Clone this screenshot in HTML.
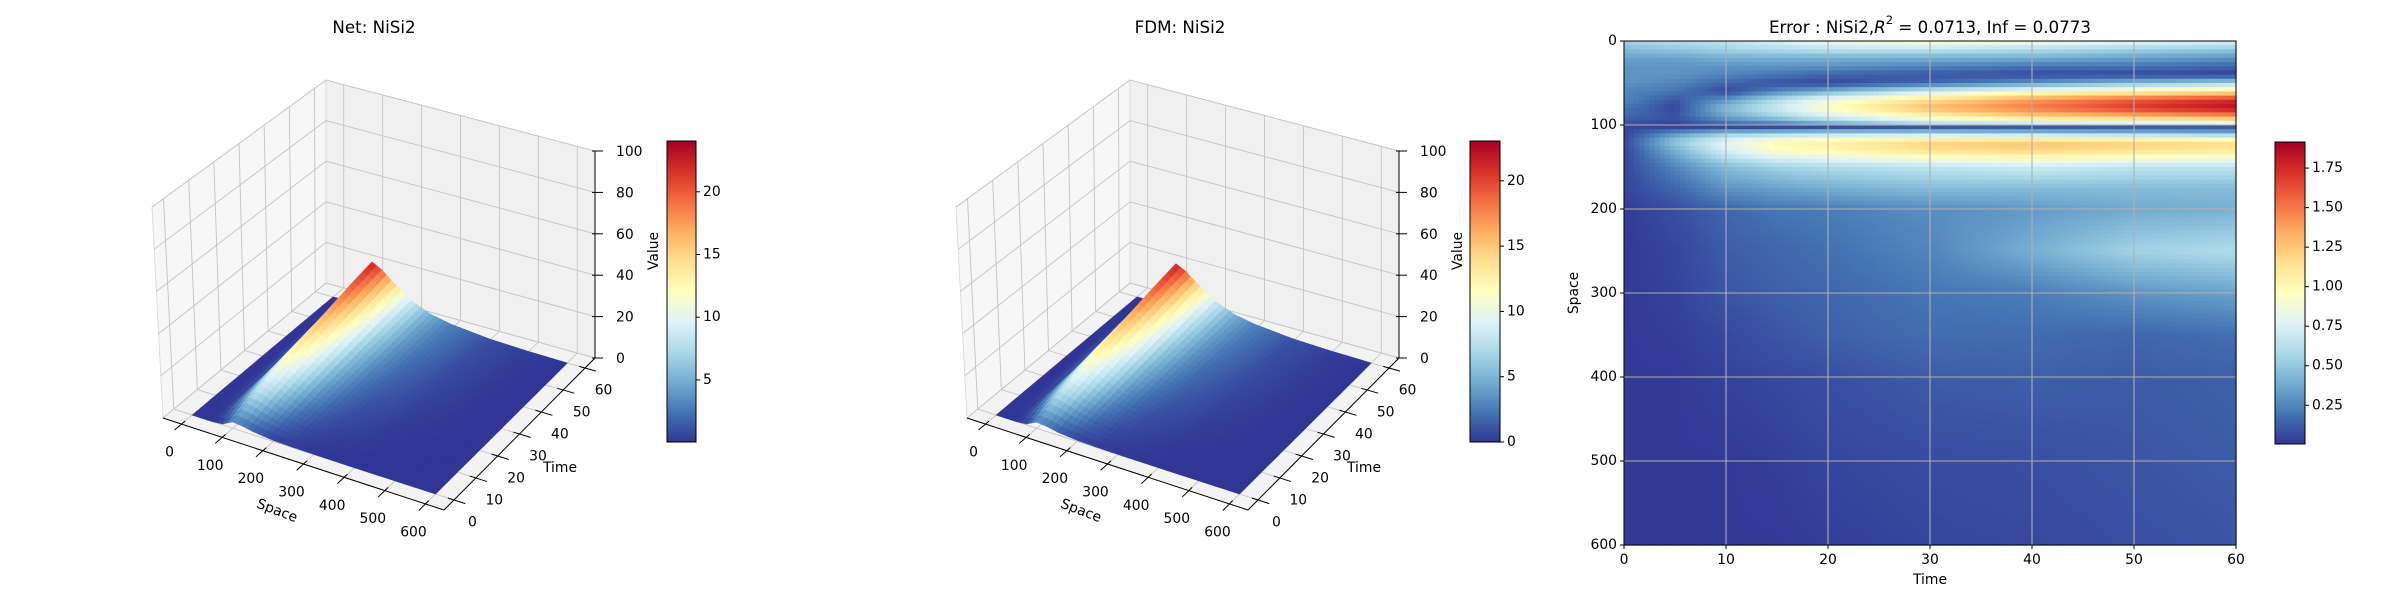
<!DOCTYPE html>
<html><head><meta charset="utf-8">
<style>
html,body{margin:0;padding:0;background:#fff;}
svg text{font-family:"DejaVu Sans","Liberation Sans",sans-serif;fill:#000;}
</style></head>
<body>
<svg id="fig" width="2400" height="600" viewBox="0 0 2400 600" xmlns="http://www.w3.org/2000/svg">
<defs><linearGradient id="cmapGrad" x1="0" y1="1" x2="0" y2="0"></linearGradient></defs>
<rect x="0" y="0" width="2400" height="600" fill="#fff"/>
<g id="net-panel"></g>
<g id="fdm-panel"></g>
<g id="err-panel"></g>
<text x="374" y="27" font-size="16.7" text-anchor="middle" dominant-baseline="central">Net: NiSi2</text>
<text x="1180" y="27" font-size="16.7" text-anchor="middle" dominant-baseline="central">FDM: NiSi2</text>
<text x="1930" y="27" font-size="16.7" text-anchor="middle" dominant-baseline="central">Error : NiSi2,<tspan font-style="italic">R</tspan><tspan font-size="11.5" dy="-7">2</tspan><tspan dy="7"> = 0.0713, Inf = 0.0773</tspan></text>
</svg>
<script>
// ---------- data ----------
const surfSpace = [0,25,50,75,100,125,150,200,250,300,400,500,600];
const surfTime = [0,10,20,30,40,50,60];
const netValues = [
 [0,0,0,0.5,3,2.5,1.5,0.5,0.2,0.1,0,0,0],
 [0,0,0.5,4,8,7,5,2.2,1,0.5,0.15,0.05,0],
 [0,0,1,6.5,11.5,10,7.8,3.8,1.9,1,0.3,0.1,0],
 [0,0,1.5,8.5,14.5,12.7,10,5.2,2.8,1.6,0.5,0.15,0],
 [0,0,2,10.5,17,15,12,6.5,3.6,2.1,0.7,0.2,0],
 [0,0,2.5,12,20,17.5,14,7.8,4.3,2.6,0.85,0.25,0],
 [0,0,3,13.5,22.5,20,16,9,5,3,1,0.3,0]
];
const fdmValues = [
 [0,0,0,0.5,2.9,2.4,1.4,0.5,0.2,0.1,0,0,0],
 [0,0,0.5,3.8,7.7,6.7,4.8,2.1,1,0.5,0.15,0.05,0],
 [0,0,1,6.2,11,9.6,7.5,3.6,1.8,1,0.3,0.1,0],
 [0,0,1.4,8.2,13.9,12.2,9.6,5,2.7,1.5,0.5,0.15,0],
 [0,0,1.9,10.1,16.3,14.4,11.5,6.2,3.5,2,0.7,0.2,0],
 [0,0,2.4,11.5,19.2,16.8,13.4,7.5,4.1,2.5,0.8,0.25,0],
 [0,0,2.9,13,21.6,19.2,15.4,8.6,4.8,2.9,1,0.3,0]
];
const spaceTicks = [0,100,200,300,400,500,600];
const timeTicks = [0,10,20,30,40,50,60];
const valueTicks = [0,20,40,60,80,100];
const netCbarTicks = [5,10,15,20];
const fdmCbarTicks = [0,5,10,15,20];
const errCbarTicks = [0.25,0.5,0.75,1.0,1.25,1.5,1.75];
const errCbarLabels = ['0.25','0.50','0.75','1.00','1.25','1.50','1.75'];

const errSpace = [0,10,20,30,40,50,60,70,80,90,97,103,110,120,130,150,175,200,250,300,350,400,500,600];
const errTime = [0,5,10,15,20,30,40,50,60];
const errValues = [
 [0.55,0.6,0.65,0.75,0.85,0.95,0.9,0.8,0.75],
 [0.45,0.5,0.55,0.6,0.65,0.65,0.6,0.55,0.5],
 [0.35,0.35,0.4,0.4,0.4,0.4,0.4,0.35,0.3],
 [0.3,0.3,0.3,0.3,0.3,0.25,0.2,0.2,0.15],
 [0.3,0.3,0.25,0.2,0.15,0.1,0.06,0.05,0.03],
 [0.3,0.25,0.15,0.08,0.05,0.15,0.3,0.45,0.55],
 [0.25,0.2,0.05,0.25,0.4,0.7,0.9,1.0,1.1],
 [0.25,0.1,0.3,0.6,0.85,1.15,1.4,1.6,1.75],
 [0.2,0.05,0.45,0.7,0.95,1.3,1.5,1.7,1.85],
 [0.15,0.1,0.35,0.55,0.75,1.0,1.2,1.3,1.4],
 [0.1,0.05,0.2,0.3,0.45,0.7,0.8,0.85,0.9],
 [0.05,0.05,0.05,0.05,0.05,0.05,0.05,0.05,0.05],
 [0.05,0.3,0.5,0.55,0.6,0.6,0.55,0.5,0.45],
 [0.05,0.5,0.8,1.0,1.05,1.2,1.25,1.2,1.15],
 [0.05,0.4,0.75,0.95,1.0,1.15,1.2,1.15,1.1],
 [0.05,0.25,0.45,0.55,0.6,0.65,0.7,0.65,0.65],
 [0.05,0.15,0.3,0.35,0.4,0.45,0.45,0.45,0.45],
 [0.02,0.08,0.15,0.2,0.22,0.28,0.32,0.38,0.4],
 [0.02,0.05,0.12,0.15,0.18,0.25,0.4,0.55,0.6],
 [0.02,0.04,0.1,0.13,0.15,0.2,0.22,0.3,0.35],
 [0.02,0.03,0.06,0.1,0.13,0.17,0.17,0.15,0.18],
 [0.02,0.02,0.04,0.06,0.08,0.12,0.13,0.12,0.13],
 [0.02,0.02,0.02,0.03,0.05,0.07,0.08,0.1,0.12],
 [0.02,0.02,0.02,0.02,0.03,0.05,0.06,0.08,0.1]
];

// ---------- helpers ----------
const NS = 'http://www.w3.org/2000/svg';
const CMAP = ['#313695','#4575b4','#74add1','#abd9e9','#e0f3f8','#ffffbf','#fee090','#fdae61','#f46d43','#d73027','#a50026'];
function hex(h){return [parseInt(h.substr(1,2),16),parseInt(h.substr(3,2),16),parseInt(h.substr(5,2),16)];}
const CM = CMAP.map(hex);
function cmap(x){
  x = Math.max(0, Math.min(1, x));
  const p = x*10; const i = Math.min(9, Math.floor(p)); const f = p - i;
  const a = CM[i], b = CM[i+1];
  return 'rgb(' + Math.round(a[0]+(b[0]-a[0])*f) + ',' + Math.round(a[1]+(b[1]-a[1])*f) + ',' + Math.round(a[2]+(b[2]-a[2])*f) + ')';
}
function mk(tag, attrs, parent){
  const e = document.createElementNS(NS, tag);
  for (const k in attrs) e.setAttribute(k, attrs[k]);
  parent.appendChild(e); return e;
}
function findIdx(arr, x){
  let i = 0; while (i < arr.length-2 && x > arr[i+1]) i++;
  const f = Math.max(0, Math.min(1, (x-arr[i])/(arr[i+1]-arr[i])));
  return [i, f];
}
function interp(a1, a2, M, x1, x2){
  const [i, fi] = findIdx(a1, x1); const [j, fj] = findIdx(a2, x2);
  return M[i][j]*(1-fi)*(1-fj) + M[i+1][j]*fi*(1-fj) + M[i][j+1]*(1-fi)*fj + M[i+1][j+1]*fi*fj;
}
(function(){
  const g = document.getElementById('cmapGrad');
  CMAP.forEach((c,i)=>{ mk('stop', {offset: (i/10), 'stop-color': c}, g); });
})();

// ---------- 3D projection ----------
const BOT = {L:[163,418], F:[444,510], R:[595,358], B:[326,283]};
const TOP = {L:[152,207], F:[452,295], R:[595,151], B:[326,80]};
const SMIN=-45.6, SMAX=645.6, TMIN=-4.56, TMAX=64.56, ZMAX=100;
function bil(C,u,v,k){return (1-u)*(1-v)*C.L[k] + u*(1-v)*C.F[k] + u*v*C.R[k] + (1-u)*v*C.B[k];}
function proj(s,t,z,ox){
  const u=(s-SMIN)/(SMAX-SMIN), v=(t-TMIN)/(TMAX-TMIN), w=z/ZMAX;
  return [ox + bil(BOT,u,v,0)*(1-w) + bil(TOP,u,v,0)*w, bil(BOT,u,v,1)*(1-w) + bil(TOP,u,v,1)*w];
}
function pts(arr){return arr.map(p=>p[0].toFixed(1)+','+p[1].toFixed(1)).join(' ');}

function drawColorbar(g, x, y, w, h, vmin, vmax, ticks, labels, prefix){
  const bar = mk('rect', {x:x, y:y, width:w, height:h, fill:'url(#cmapGrad)', stroke:'#000', 'stroke-width':1}, g);
  
  
  ticks.forEach((v,i)=>{
    const ty = y + h - (v - vmin)/(vmax - vmin)*h;
    const tk = mk('line', {x1:x+w, y1:ty, x2:x+w+4, y2:ty, stroke:'#000', 'stroke-width':1}, g);
    
    
    const tl = mk('text', {x:x+w+7, y:ty, 'font-size':13.9, 'dominant-baseline':'central'}, g);
    
    
    tl.textContent = labels ? labels[i] : String(v);
  });
}

function draw3D(g, ox, vals, vmin, vmax, prefix){
  const paneStyle = {stroke:'#d6d6d6', 'stroke-width':0.8};
  const lp = mk('polygon', Object.assign({points: pts([proj(SMIN,TMIN,0,ox),proj(SMIN,TMAX,0,ox),proj(SMIN,TMAX,100,ox),proj(SMIN,TMIN,100,ox)]), fill:'#f7f7f7'}, paneStyle), g);
  
  
  const bp = mk('polygon', Object.assign({points: pts([proj(SMIN,TMAX,0,ox),proj(SMAX,TMAX,0,ox),proj(SMAX,TMAX,100,ox),proj(SMIN,TMAX,100,ox)]), fill:'#f0f0f0'}, paneStyle), g);
  
  
  const fp = mk('polygon', Object.assign({points: pts([proj(SMIN,TMIN,0,ox),proj(SMAX,TMIN,0,ox),proj(SMAX,TMAX,0,ox),proj(SMIN,TMAX,0,ox)]), fill:'#f3f3f3'}, paneStyle), g);
  
  
  const grid = (a,b)=>{
    const l = mk('line', {x1:a[0], y1:a[1], x2:b[0], y2:b[1], stroke:'#c4c4c4', 'stroke-width':0.9}, g);
    
    
  };
  timeTicks.forEach(t=>{ grid(proj(SMIN,t,0,ox), proj(SMIN,t,100,ox)); grid(proj(SMIN,t,0,ox), proj(SMAX,t,0,ox)); });
  valueTicks.forEach(z=>{ grid(proj(SMIN,TMIN,z,ox), proj(SMIN,TMAX,z,ox)); grid(proj(SMIN,TMAX,z,ox), proj(SMAX,TMAX,z,ox)); });
  spaceTicks.forEach(s=>{ grid(proj(s,TMAX,0,ox), proj(s,TMAX,100,ox)); grid(proj(s,TMIN,0,ox), proj(s,TMAX,0,ox)); });

  const ns = 48, nt = 30;
  const S0 = surfSpace[0], S1 = surfSpace[surfSpace.length-1];
  const T0 = surfTime[0], T1 = surfTime[surfTime.length-1];
  const val = (s,t)=>interp(surfTime, surfSpace, vals, t, s);
  const quads = [];
  for (let i=0;i<ns;i++){
    for (let j=0;j<nt;j++){
      const sa = S0 + (S1-S0)*i/ns, sb = S0 + (S1-S0)*(i+1)/ns;
      const ta = T0 + (T1-T0)*j/nt, tb = T0 + (T1-T0)*(j+1)/nt;
      const v1=val(sa,ta), v2=val(sb,ta), v3=val(sb,tb), v4=val(sa,tb);
      const key = ((sa+sb)/2 - SMIN)/(SMAX-SMIN) - ((ta+tb)/2 - TMIN)/(TMAX-TMIN);
      quads.push({key, p:[proj(sa,ta,v1,ox),proj(sb,ta,v2,ox),proj(sb,tb,v3,ox),proj(sa,tb,v4,ox)], v:(v1+v2+v3+v4)/4});
    }
  }
  quads.sort((a,b)=>a.key-b.key);
  quads.forEach(q=>{
    const c = cmap((q.v - vmin)/(vmax - vmin));
    const poly = mk('polygon', {points: pts(q.p), fill:c, stroke:c, 'stroke-width':0.6}, g);
    
    
  });

  const axisLine = (a,b,name)=>{
    const l = mk('line', {x1:a[0], y1:a[1], x2:b[0], y2:b[1], stroke:'#000', 'stroke-width':1}, g);
    
    
  };
  axisLine(proj(SMIN,TMIN,0,ox), proj(SMAX,TMIN,0,ox), prefix + '-space-axis');
  axisLine(proj(SMAX,TMIN,0,ox), proj(SMAX,TMAX,0,ox), prefix + '-time-axis');
  axisLine(proj(SMAX,TMAX,0,ox), proj(SMAX,TMAX,100,ox), prefix + '-value-axis');

  const label = (x,y,txt,name,anchor)=>{
    const t = mk('text', {x:x, y:y, 'font-size':13.9, 'text-anchor':anchor||'middle', 'dominant-baseline':'central'}, g);
    
    
    t.textContent = txt; return t;
  };
  spaceTicks.forEach(s=>{
    axisLine(proj(s,TMIN+1.5,0,ox), proj(s,TMIN-3,0,ox), prefix + '-space-tick');
    const p = proj(s,TMIN,0,ox);
    label(p[0]-12, p[1]+28.5, String(s), prefix + '-space-tick-label');
  });
  timeTicks.forEach(t=>{
    axisLine(proj(SMAX-15,t,0,ox), proj(SMAX+28,t,0,ox), prefix + '-time-tick');
    const p = proj(SMAX,t,0,ox);
    label(p[0]+18.5, p[1]+22.5, String(t), prefix + '-time-tick-label');
  });
  valueTicks.forEach(z=>{
    const p = proj(SMAX,TMAX,z,ox);
    axisLine([p[0]-3,p[1]], [p[0]+8,p[1]], prefix + '-value-tick');
    label(p[0]+21, p[1]+1, String(z), prefix + '-value-tick-label', 'start');
  });
  const sl = label(277+ox, 511, 'Space', prefix + '-space-axis-title');
  sl.setAttribute('transform', 'rotate(21 ' + (277+ox) + ' 511)');
  label(560+ox, 468, 'Time', prefix + '-time-axis-title');
  const vl = label(654+ox, 251, 'Value', prefix + '-value-axis-title');
  vl.setAttribute('transform', 'rotate(-90 ' + (654+ox) + ' 251)');
}

draw3D(document.getElementById('net-panel'), 0, netValues, 0.05, 24.05, 'net');
drawColorbar(document.getElementById('net-panel'), 667, 141, 29, 301, 0.05, 24.05, netCbarTicks, null, 'net');
draw3D(document.getElementById('fdm-panel'), 804, fdmValues, 0, 23.05, 'fdm');
drawColorbar(document.getElementById('fdm-panel'), 1470, 141, 30, 301, 0, 23.05, fdmCbarTicks, null, 'fdm');

// ---------- heatmap ----------
(function(){
  const g = document.getElementById('err-panel');
  const X0=1624, X1=2236, Y0=41, Y1=545;
  const TMAXH=60, SMAXH=600, VMIN=0.005, VMAX=1.915;
  const xs = t => X0 + (t/TMAXH)*(X1-X0);
  const ys = s => Y0 + (s/SMAXH)*(Y1-Y0);
  const nc=120, nr=120;
  for (let i=0;i<nr;i++){
    for (let j=0;j<nc;j++){
      const s = (i+0.5)*SMAXH/nr, t=(j+0.5)*TMAXH/nc;
      const v = interp(errSpace, errTime, errValues, s, t);
      const c = cmap((v-VMIN)/(VMAX-VMIN));
      const r = mk('rect', {x:xs(j*TMAXH/nc).toFixed(2), y:ys(i*SMAXH/nr).toFixed(2), width:((X1-X0)/nc+0.6).toFixed(2), height:((Y1-Y0)/nr+0.6).toFixed(2), fill:c}, g);
      
      
    }
  }
  timeTicks.forEach(t=>{
    const l = mk('line', {x1:xs(t), y1:Y0, x2:xs(t), y2:Y1, stroke:'#b0b0b0', 'stroke-width':1.1}, g);
    
    
    const tk = mk('line', {x1:xs(t), y1:Y1, x2:xs(t), y2:Y1+4, stroke:'#000', 'stroke-width':1}, g);
    
    
    const tl = mk('text', {x:xs(t), y:Y1+15, 'font-size':13.9, 'text-anchor':'middle', 'dominant-baseline':'central'}, g);
    
    
    tl.textContent = String(t);
  });
  spaceTicks.forEach(s=>{
    const l = mk('line', {x1:X0, y1:ys(s), x2:X1, y2:ys(s), stroke:'#b0b0b0', 'stroke-width':1.1}, g);
    
    
    const tk = mk('line', {x1:X0-4, y1:ys(s), x2:X0, y2:ys(s), stroke:'#000', 'stroke-width':1}, g);
    
    
    const tl = mk('text', {x:X0-7, y:ys(s), 'font-size':13.9, 'text-anchor':'end', 'dominant-baseline':'central'}, g);
    
    
    tl.textContent = String(s);
  });
  const fr = mk('rect', {x:X0, y:Y0, width:X1-X0, height:Y1-Y0, fill:'none', stroke:'#000', 'stroke-width':1}, g);
  
  
  const xl = mk('text', {x:(X0+X1)/2, y:580, 'font-size':13.9, 'text-anchor':'middle', 'dominant-baseline':'central'}, g);
  
  
  xl.textContent = 'Time';
  const yl = mk('text', {x:1574, y:(Y0+Y1)/2, 'font-size':13.9, 'text-anchor':'middle', 'dominant-baseline':'central', transform:'rotate(-90 1574 ' + ((Y0+Y1)/2) + ')'}, g);
  
  
  yl.textContent = 'Space';
  drawColorbar(g, 2275, 142, 30, 302, VMIN, VMAX, errCbarTicks, errCbarLabels, 'error');
})();
</script>
</body></html>
